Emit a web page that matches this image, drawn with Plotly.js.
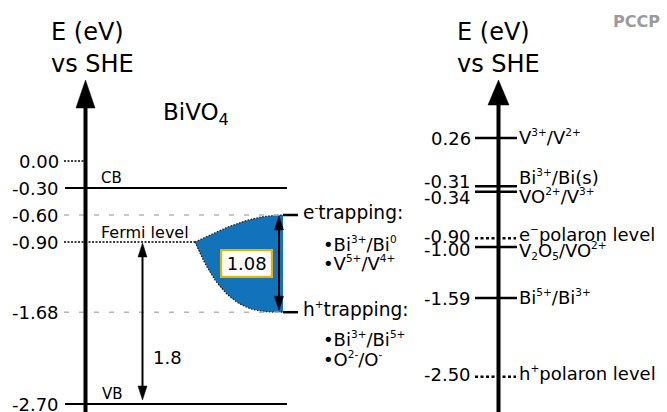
<!DOCTYPE html>
<html><head><meta charset="utf-8">
<script src="https://cdn.plot.ly/plotly-3.0.1.min.js"></script>
<style>html,body{margin:0;padding:0;background:#fff}#chart{width:667px;height:412px}</style>
</head><body><div id="chart"></div>
<script>
// ---------------- data ----------------
// left panel: BiVO4 levels (eV vs SHE)
const leftTickValues = [0.00, -0.30, -0.60, -0.90, -1.68, -2.70];
const leftTickLabels = ['0.00', '-0.30', '-0.60', '-0.90', '-1.68', '-2.70'];
const cbLevel = -0.30;
const vbLevel = -2.70;
const fermiLevel = -0.90;
const eTrapLevel = -0.60;
const hTrapLevel = -1.68;
const bandGapLabel = '1.8';
const trapGapLabel = '1.08';
const eTrapLines = ['e<sup>-</sup>trapping:', '•Bi<sup>3+</sup>/Bi<sup>0</sup>', '•V<sup>5+</sup>/V<sup>4+</sup>'];
const hTrapLines = ['h<sup>+</sup>trapping:', '•Bi<sup>3+</sup>/Bi<sup>5+</sup>', '•O<sup>2-</sup>/O<sup>-</sup>'];

// right panel: redox couples and polaron levels (eV vs SHE)
const coupleValues = [0.26, -0.31, -0.34, -1.00, -1.59];
const coupleTickLabels = ['0.26', '-0.31', '-0.34', '-1.00', '-1.59'];
const coupleNames = ['V<sup>3+</sup>/V<sup>2+</sup>', 'Bi<sup>3+</sup>/Bi(s)', 'VO<sup>2+</sup>/V<sup>3+</sup>',
                     'V<sub>2</sub>O<sub>5</sub>/VO<sup>2+</sup>', 'Bi<sup>5+</sup>/Bi<sup>3+</sup>'];
const polaronValues = [-0.90, -2.50];
const polaronTickLabels = ['-0.90', '-2.50'];
const polaronNames = ['e<sup>−</sup>polaron level', 'h<sup>+</sup>polaron level'];

// ---------------- layout helpers ----------------
const W = 667, H = 412;
const LS = 90, LZ = 161;                 // left axis: px per eV, pixel of 0 eV
const RS = 86.5, RREF = 0.26, RPX = 138; // right axis
const leftRange = [-(H - LZ) / LS, LZ / LS];
const rightRange = [RREF - (H - RPX) / RS, RREF + RPX / RS];
const FONT = 'DejaVu Sans, Verdana, sans-serif';
const scale = ax => ax === 'y' ? LS : RS;
const pY = px => 1 - px / H;
// smaller super/subscripts, like the reference
const small = s => s.replace(/<(sup|sub)>(.*?)<\/\1>/g, '<$1><span style="font-size:10.5px">$2</span></$1>');

const traces = [];
function seg(x0, x1, y0, y1, ax, color, width, dash) {
  traces.push({type: 'scatter', mode: 'lines', x: [x0, x1], y: [y0, y1], yaxis: ax,
    line: {color: color, width: width, dash: dash || 'solid'}, hoverinfo: 'skip', showlegend: false});
}
function tri(xc, Etip, up, wPx, lenPx, ax) {
  const Eb = Etip - (up ? 1 : -1) * lenPx / scale(ax);
  traces.push({type: 'scatter', mode: 'lines', x: [xc - wPx / 2, xc + wPx / 2, xc, xc - wPx / 2],
    y: [Eb, Eb, Etip, Eb], yaxis: ax, fill: 'toself', fillcolor: '#000',
    line: {color: '#000', width: 0.5}, hoverinfo: 'skip', showlegend: false});
  return Eb;
}
function dblArrow(xc, Etop, Ebot, ax, gapTop, gapBot) {
  const s = scale(ax);
  const b1 = tri(xc, Etop - gapTop / s, true, 9, 14, ax);
  const b2 = tri(xc, Ebot + gapBot / s, false, 9, 14, ax);
  seg(xc, xc, b1, b2, ax, '#000', 2);
}

// ---------------- left panel ----------------
const LX0 = 65, LX1 = 287, AXL = 85.5;
// blue trap region
const xF = 195, xR = 283, N = 40;
const topX = [], topY = [], botX = [], botY = [];
for (let i = 0; i <= N; i++) {
  const t = i / N;
  topX.push(xF + (xR - xF) * t);
  topY.push(fermiLevel + (eTrapLevel - fermiLevel) * Math.sin(t * Math.PI / 2));
  botX.push(xF + (xR - xF) * t);
  botY.push(fermiLevel + (hTrapLevel - fermiLevel) * (1 - Math.pow(1 - t, 3)));
}
traces.push({type: 'scatter', mode: 'lines', x: topX.concat(botX.slice().reverse()),
  y: topY.concat(botY.slice().reverse()), yaxis: 'y', fill: 'toself', fillcolor: '#1272BA',
  line: {width: 0}, hoverinfo: 'skip', showlegend: false});
traces.push({type: 'scatter', mode: 'lines', x: topX, y: topY, yaxis: 'y',
  line: {color: '#222', width: 1.3, dash: '1.5px,1.5px'}, hoverinfo: 'skip', showlegend: false});
traces.push({type: 'scatter', mode: 'lines', x: botX, y: botY, yaxis: 'y',
  line: {color: '#222', width: 1.3, dash: '1.5px,1.5px'}, hoverinfo: 'skip', showlegend: false});

// level lines
seg(64, 84, leftTickValues[0], leftTickValues[0], 'y', '#000', 1.6, '2px,1.5px');
seg(LX0, LX1, cbLevel, cbLevel, 'y', '#000', 2);
seg(LX0, LX1, vbLevel, vbLevel, 'y', '#000', 2);
seg(64, xR, eTrapLevel, eTrapLevel, 'y', '#b5b5b5', 1.5, '5px,10px');
seg(64, xR, hTrapLevel, hTrapLevel, 'y', '#b5b5b5', 1.5, '5px,10px');
seg(64, xF, fermiLevel, fermiLevel, 'y', '#000', 1.6, '2px,1.5px');
seg(xR, 298, eTrapLevel, eTrapLevel, 'y', '#000', 2.5);
seg(xR, 298, hTrapLevel, hTrapLevel, 'y', '#000', 2.5);

// arrows
dblArrow(142.5, fermiLevel, vbLevel, 'y', 1, 4);
dblArrow(279, eTrapLevel, hTrapLevel, 'y', 1, 2);

// vertical axis arrow (left)
const lHeadTip = (LZ - 80) / LS;
const lBase = tri(AXL, lHeadTip, true, 19, 28, 'y');
seg(AXL, AXL, leftRange[0] - 0.1, lBase, 'y', '#000', 4);

// ---------------- right panel ----------------
const AXR = 498.5;
// tiny pixel nudges keep the two nearly equal couples (-0.31 / -0.34) visually apart
const lineNudge = [0, 1, -1.8, 0, 0];
const shapes = coupleValues.map((v, i) => ({type: 'line', xref: 'x', yref: 'y2', ysizemode: 'pixel',
  yanchor: v, y0: lineNudge[i], y1: lineNudge[i], x0: 475, x1: 517, line: {color: '#000', width: 2.6}}));
polaronValues.forEach(v => seg(475, 516, v, v, 'y2', '#000', 2.5, '3px,2.5px'));
const rHeadTip = RREF + (RPX - 80) / RS;
const rBase = tri(AXR, rHeadTip, true, 21, 25, 'y2');
seg(AXR, AXR, rightRange[0] - 0.1, rBase, 'y2', '#000', 4);

// ---------------- annotations ----------------
const ann = [];
function txt(text, x, y, yref, size, xanchor, extra) {
  ann.push(Object.assign({text: text, x: x, y: y, xref: 'x', yref: yref, showarrow: false,
    xanchor: xanchor || 'left', yanchor: 'middle', font: {family: FONT, size: size, color: '#000'}}, extra || {}));
}
// titles
txt('E (eV)', 49, pY(32), 'paper', 24);
txt('vs SHE', 49, pY(64), 'paper', 24);
txt('E (eV)', 455, pY(32), 'paper', 24);
txt('vs SHE', 455, pY(64), 'paper', 24);
txt('<b>PCCP</b>', 611, pY(22), 'paper', 16, 'left', {font: {family: FONT, size: 16, color: '#9b9b9b'}});
txt('BiVO<sub>4</sub>', 161, pY(114), 'paper', 23);

// left ticks
leftTickValues.forEach((v, i) => txt(leftTickLabels[i], 61, v, 'y', 18, 'right'));
txt('CB', 99, cbLevel, 'y', 15, 'left', {yshift: 10});
txt('VB', 100, vbLevel, 'y', 15, 'left', {yshift: 10});
txt('Fermi level', 99, fermiLevel, 'y', 16, 'left', {yshift: 10});
txt(bandGapLabel, 151, fermiLevel + (vbLevel - fermiLevel) * 0.71, 'y', 18);
txt(trapGapLabel, 246.5, (eTrapLevel + hTrapLevel) / 2, 'y', 18, 'center',
  {bgcolor: '#fff', bordercolor: '#E6B400', borderwidth: 2.2, borderpad: 1, width: 47, height: 23});
// trapping text
txt(small(eTrapLines[0]), 301, eTrapLevel, 'y', 18.6, 'left', {yshift: 3});
txt(small(eTrapLines[1]), 321, eTrapLevel, 'y', 18, 'left', {yshift: -29});
txt(small(eTrapLines[2]), 321, eTrapLevel, 'y', 18, 'left', {yshift: -48});
txt(small(hTrapLines[0]), 301, hTrapLevel, 'y', 18.6, 'left', {yshift: 3});
txt(small(hTrapLines[1]), 321, hTrapLevel, 'y', 18, 'left', {yshift: -27});
txt(small(hTrapLines[2]), 321, hTrapLevel, 'y', 18, 'left', {yshift: -47});

// right ticks and names
const tickShift = [0, 6, -7.5, -3, 0];
const nameShift = [1, 10, -6, -4, 1];
coupleValues.forEach((v, i) => {
  txt(coupleTickLabels[i], 473, v, 'y2', 18, 'right', {yshift: tickShift[i]});
  txt(small(coupleNames[i]), 517, v, 'y2', 18, 'left', {yshift: nameShift[i]});
});
polaronValues.forEach((v, i) => {
  txt(polaronTickLabels[i], 473, v, 'y2', 18, 'right', {yshift: 2});
  txt(small(polaronNames[i]), 517, v, 'y2', 18, 'left', {yshift: 4});
});

const layout = {
  width: W, height: H, margin: {l: 0, r: 0, t: 0, b: 0},
  paper_bgcolor: '#fff', plot_bgcolor: '#fff', showlegend: false,
  xaxis: {range: [0, W], visible: false, fixedrange: true},
  yaxis: {range: leftRange, visible: false, fixedrange: true},
  yaxis2: {range: rightRange, visible: false, overlaying: 'y', fixedrange: true},
  shapes: shapes,
  annotations: ann
};
Plotly.newPlot('chart', traces, layout, {staticPlot: true, displayModeBar: false});
</script></body></html>
